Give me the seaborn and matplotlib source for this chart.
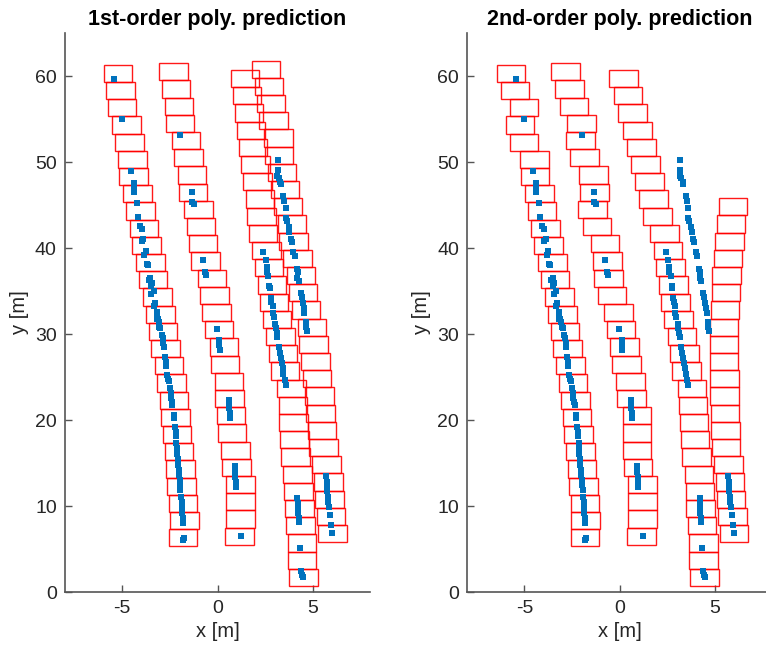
import pandas as pd
import seaborn as sns
import matplotlib
matplotlib.use('Agg')
from matplotlib import pyplot as plt
from matplotlib.patches import Rectangle

# y centres of the predicted boxes, per lane [m]
lane_y1 = [60.3, 58.3, 56.3, 54.3, 52.3, 50.3, 48.3, 46.3, 44.3, 42.3, 40.3, 38.3, 36.3, 34.3,
           32.3, 30.3, 28.3, 26.3, 24.3, 22.3, 20.3, 18.3, 16.3, 14.3, 12.3, 10.3, 8.3, 6.3]
lane_y2 = [60.5, 58.5, 56.5, 54.5, 52.5, 50.5, 48.5, 46.5, 44.5, 42.5, 40.5, 38.5, 36.5, 34.5,
           32.5, 30.5, 28.5, 26.5, 24.5, 22.5, 20.5, 18.5, 16.5, 14.5, 12.5, 10.5, 8.5, 6.5]
lane_y3 = [59.7, 57.7, 55.7, 53.7, 51.7, 49.7, 47.7, 45.7, 43.7, 41.7, 39.7, 37.7, 35.7, 33.7, 31.7,
           29.7, 27.7, 25.7, 23.7, 21.7, 19.7, 17.7, 15.7, 13.7, 11.7, 9.7, 7.7, 5.7, 3.7, 1.7]
lane_y4 = [60.8, 58.8, 56.8, 54.8, 52.8, 50.8, 48.8, 46.8, 44.8, 42.8, 40.8, 38.8, 36.8, 34.8,
           32.8, 30.8, 28.8, 26.8, 24.8, 22.8, 20.8, 18.8, 16.8, 14.8, 12.8, 10.8, 8.8, 6.8]
lane_y4_short = [44.8, 42.8, 40.8, 38.8, 36.8, 34.8, 32.8, 30.8, 28.8, 26.8, 24.8, 22.8, 20.8,
                 18.8, 16.8, 14.8, 12.8, 10.8, 8.8, 6.8]

# x centres of the boxes, 1st-order prediction
first_x1 = [-5.23, -5.09, -5.01, -4.77, -4.62, -4.45, -4.41, -4.20, -4.05, -3.87, -3.74, -3.51, -3.38, -3.15,
            -2.98, -2.87, -2.74, -2.55, -2.42, -2.28, -2.21, -2.12, -2.02, -1.95, -1.88, -1.81, -1.74, -1.81]
first_x2 = [-2.30, -2.17, -2.03, -1.96, -1.65, -1.52, -1.34, -1.29, -0.99, -0.86, -0.76, -0.64, -0.29, -0.17,
            -0.04, 0.08, 0.33, 0.39, 0.60, 0.63, 0.71, 0.76, 0.93, 0.98, 1.21, 1.21, 1.21, 1.15]
first_x3 = [1.44, 1.55, 1.66, 1.76, 1.87, 1.99, 2.10, 2.22, 2.32, 2.39, 2.57, 2.69, 2.86, 2.97, 3.11,
            3.30, 3.44, 3.54, 3.89, 3.95, 3.98, 4.03, 4.08, 4.21, 4.26, 4.29, 4.36, 4.43, 4.43, 4.50]
first_x4 = [2.55, 2.69, 2.81, 2.95, 3.19, 3.23, 3.39, 3.54, 3.70, 3.91, 3.98, 4.20, 4.38, 4.49,
            4.65, 4.96, 5.05, 5.13, 5.22, 5.34, 5.40, 5.48, 5.57, 5.73, 5.82, 5.88, 5.96, 6.02]

# x centres of the boxes, 2nd-order prediction
second_x1 = [-5.71, -5.50, -5.03, -5.24, -5.03, -4.46, -4.45, -4.22, -4.08, -3.88, -3.75, -3.52, -3.40, -3.16,
             -3.00, -2.88, -2.75, -2.57, -2.44, -2.31, -2.24, -2.15, -2.05, -1.97, -1.90, -1.83, -1.78, -1.83]
second_x2 = [-2.83, -2.62, -2.40, -1.99, -2.05, -1.84, -1.36, -1.32, -1.42, -1.20, -0.78, -0.65, -0.58, -0.40,
             -0.06, 0.06, 0.24, 0.35, 0.56, 0.61, 0.91, 0.91, 0.91, 0.96, 1.19, 1.19, 1.19, 1.13]
second_x3 = [0.20, 0.44, 0.68, 0.92, 1.14, 1.36, 1.57, 1.77, 1.97, 2.36, 2.53, 2.67, 2.82, 2.94, 3.10,
             3.28, 3.40, 3.51, 3.79, 3.85, 3.91, 3.96, 4.03, 4.17, 4.22, 4.25, 4.32, 4.39, 4.39, 4.46]
second_x4 = [5.94, 5.85, 5.75, 5.68, 5.62, 5.58, 5.52, 5.47, 5.47, 5.47, 5.49, 5.49, 5.52, 5.54,
             5.58, 5.70, 5.79, 5.84, 5.92, 5.99]

# measured detections (same in both panels)
det_x = [-5.44, -5.03, -4.53, -4.39, -4.39, -4.39, -4.24, -4.19, -4.07, -3.99, -3.89, -3.96, -3.77, -3.84,
         -3.72, -3.66, -3.52, -3.59, -3.46, -3.51, -3.33, -3.47, -3.30, -3.35, -3.17, -3.19, -3.17, -3.12,
         -3.08, -3.05, -3.00, -2.91, -2.88, -2.84, -2.81, -2.77, -2.70, -2.72, -2.65, -2.60, -2.55, -2.49,
         -2.46, -2.46, -2.39, -2.37, -2.28, -2.28, -2.25, -2.20, -2.18, -2.16, -2.13, -2.11, -2.09, -2.06,
         -2.04, -2.01, -1.99, -1.97, -1.95, -1.92, -1.88, -1.86, -1.85, -1.83, -1.81, -1.76, -1.80,
         -1.99, -1.36, -1.36, -1.26, -0.75, -0.66, -0.63, -0.02, 0.10, 0.10, 0.12, 0.58, 0.60, 0.61,
         0.63, 0.63, 0.89, 0.93, 0.94, 0.96, 0.98, 1.22,
         2.41, 2.53, 2.59, 2.60, 2.67, 2.72, 2.76, 2.80, 2.83, 2.90, 2.90, 2.98, 3.04, 3.06, 3.11, 3.14,
         3.23, 3.28, 3.32, 3.37, 3.42, 3.46, 3.53, 3.58, 4.19, 4.21, 4.23, 4.24, 4.26, 4.28, 4.33, 4.37,
         4.43, 4.49,
         3.19, 3.19, 3.14, 3.23, 3.30, 3.32, 3.46, 3.51, 3.61, 3.58, 3.66, 3.75, 3.77, 3.84, 3.90, 3.98,
         4.05, 4.16, 4.23, 4.19, 4.29, 4.37, 4.43, 4.50, 4.54, 4.56, 4.63, 4.64, 4.68, 5.69, 5.73, 5.74,
         5.76, 5.80, 5.81, 5.85, 5.92, 5.94, 5.99]
det_y = [59.7, 55.0, 48.9, 47.6, 47.0, 46.5, 45.2, 43.6, 42.6, 42.2, 41.0, 40.8, 39.7, 39.2,
         38.2, 38.0, 36.5, 36.3, 35.9, 35.6, 35.0, 34.7, 33.6, 33.3, 32.6, 32.3, 31.8, 31.7,
         31.4, 30.8, 30.7, 29.9, 29.5, 29.0, 28.5, 27.3, 26.8, 26.3, 25.2, 24.8, 24.5, 23.7,
         23.1, 22.6, 22.1, 21.7, 20.6, 20.2, 19.2, 18.6, 18.1, 17.3, 16.7, 16.1, 15.5, 14.8,
         14.2, 13.6, 13.0, 12.4, 11.9, 11.1, 10.5, 9.9, 9.2, 8.6, 8.0, 6.3, 6.1,
         53.2, 46.5, 45.4, 45.1, 38.6, 37.2, 36.9, 30.6, 29.3, 28.7, 28.2, 22.3, 21.9, 21.4,
         20.8, 20.2, 14.6, 14.0, 13.4, 12.8, 12.2, 6.5,
         39.5, 38.6, 37.8, 37.2, 36.8, 35.6, 35.3, 34.2, 33.7, 33.3, 32.4, 32.0, 31.2, 30.7, 30.1, 29.7,
         28.5, 27.8, 27.2, 26.6, 26.0, 25.4, 24.7, 24.1, 10.9, 10.3, 9.7, 9.2, 8.6, 8.1, 5.1, 2.4,
         2.0, 1.7,
         50.2, 49.1, 48.4, 48.1, 47.7, 47.4, 46.1, 45.5, 44.6, 43.5, 43.1, 42.5, 41.9, 41.1, 40.7, 39.5,
         39.1, 37.6, 37.2, 36.5, 36.2, 34.8, 34.3, 33.6, 33.0, 32.4, 31.4, 30.8, 30.3, 13.5, 12.8, 12.2,
         11.7, 11.1, 10.5, 9.9, 9.0, 7.8, 6.9]

titles = ['1st-order poly. prediction', '2nd-order poly. prediction']
box_w, box_h = 1.5, 2.0

detections = pd.DataFrame({'x': det_x, 'y': det_y})

panels = [
    [(first_x1, lane_y1), (first_x2, lane_y2), (first_x3, lane_y3), (first_x4, lane_y4)],
    [(second_x1, lane_y1), (second_x2, lane_y2), (second_x3, lane_y3), (second_x4, lane_y4_short)],
]

sns.set_theme(style='white')
plt.rcParams['font.family'] = ['Liberation Sans', 'DejaVu Sans']
plt.rcParams['axes.unicode_minus'] = False
text_col = '#262626'

fig = plt.figure(figsize=(7.66, 6.53), dpi=100)
ax_left = fig.add_axes([0.085, 0.0934, 0.398, 0.856])
ax_right = fig.add_axes([0.610, 0.0934, 0.398, 0.856])

for ax, lanes, title in zip([ax_left, ax_right], panels, titles):
    for xs, ys in lanes:
        for xc, yc in zip(xs, ys):
            ax.add_patch(Rectangle((xc - box_w / 2, yc - box_h / 2), box_w, box_h,
                                   fill=False, edgecolor='red', linewidth=1.0, alpha=0.9))
    sns.scatterplot(data=detections, x='x', y='y', ax=ax, marker='s', s=13,
                    color='#0072BD', linewidth=0, zorder=3)
    ax.set_xlim(-8, 8)
    ax.set_ylim(0, 65)
    ax.set_xticks([-5, 0, 5])
    ax.set_yticks([0, 10, 20, 30, 40, 50, 60])
    ax.set_xlabel('x [m]', fontsize=14.5, color=text_col, labelpad=3)
    ax.set_ylabel('y [m]', fontsize=14.5, color=text_col, labelpad=4)
    ax.set_title(title, fontsize=15.5, fontweight='bold', color='black', pad=6)
    ax.tick_params(direction='in', length=5, width=1, colors='#555555', pad=6,
                   labelcolor=text_col, labelsize=14, left=True, bottom=True)
    for side in ['top', 'right']:
        ax.spines[side].set_visible(False)
    for side in ['left', 'bottom']:
        ax.spines[side].set_color('#555555')
        ax.spines[side].set_linewidth(1.2)

fig.savefig('out.png', dpi=100)
